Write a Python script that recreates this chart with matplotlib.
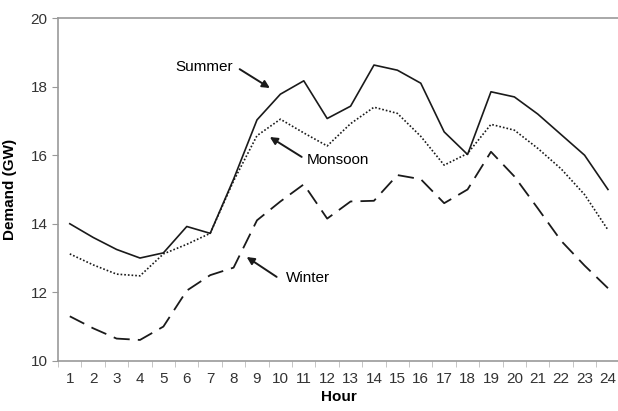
import matplotlib
matplotlib.use('Agg')
import matplotlib.pyplot as plt
from matplotlib.ticker import MultipleLocator

# Dados
horas = list(range(1, 25))
verao = [14.0, 13.6, 13.25, 13.0, 13.15, 13.92, 13.72, 15.3, 17.03, 17.78, 18.17, 17.07,
         17.43, 18.63, 18.48, 18.1, 16.68, 16.02, 17.85, 17.7, 17.2, 16.6, 16.0, 15.0]
moncao = [13.12, 12.8, 12.53, 12.48, 13.12, 13.4, 13.72, 15.25, 16.57, 17.05, 16.65, 16.27,
          16.92, 17.4, 17.22, 16.55, 15.71, 16.05, 16.9, 16.73, 16.2, 15.6, 14.85, 13.82]
inverno = [11.3, 10.95, 10.65, 10.61, 11.0, 12.05, 12.5, 12.72, 14.1, 14.65, 15.15, 14.15,
           14.65, 14.67, 15.42, 15.3, 14.6, 15.0, 16.1, 15.38, 14.45, 13.5, 12.78, 12.12]

plt.rcParams['font.family'] = ['Liberation Sans', 'DejaVu Sans']

fig = plt.figure(figsize=(6.18, 4.11), dpi=100)
ax = fig.add_axes([0.094, 0.122, 0.9087, 0.834])

cor = '#1a1a1a'
ax.plot(horas, verao, c=cor, lw=1.2, ls='-')
ax.plot(horas, moncao, c=cor, lw=1.2, ls=(0, (1, 1.2)))
ax.plot(horas, inverno, c=cor, lw=1.3, ls=(0, (9, 4.5)))

ax.set_xlim(0.5, 24.5)
ax.set_ylim(10, 20)
ax.set_yticks([10, 12, 14, 16, 18, 20])
ax.set_xticks(horas)
ax.xaxis.set_minor_locator(MultipleLocator(1, offset=0.5))
ax.tick_params(axis='x', which='major', length=0, pad=8, labelsize=11, labelcolor='#333333')
ax.tick_params(axis='x', which='minor', length=4, color='#bbbbbb', direction='out')
ax.tick_params(axis='y', length=4, color='#999999', labelsize=11, labelcolor='#333333')

for lado in ['left', 'bottom', 'top']:
    ax.spines[lado].set_color('#999999')
    ax.spines[lado].set_linewidth(1.2)
ax.spines['right'].set_visible(False)

ax.set_xlabel('Hour', fontsize=11, fontweight='bold', labelpad=3)
ax.set_ylabel('Demand (GW)', fontsize=11, fontweight='bold', labelpad=10)

# rótulos e setas
seta = dict(arrowstyle='-|>', color=cor, lw=1.4, mutation_scale=11, shrinkA=0, shrinkB=0)
ax.text(6.73, 18.57, 'Summer', fontsize=11, ha='center', va='center')
ax.annotate('', xy=(9.55, 17.96), xytext=(8.26, 18.51), arrowprops=seta)
ax.text(11.13, 15.86, 'Monsoon', fontsize=11, ha='left', va='center')
ax.annotate('', xy=(9.55, 16.53), xytext=(10.91, 15.95), arrowprops=seta)
ax.text(10.23, 12.42, 'Winter', fontsize=11, ha='left', va='center')
ax.annotate('', xy=(8.56, 13.03), xytext=(9.84, 12.45), arrowprops=seta)

fig.savefig('out.png', dpi=100)
